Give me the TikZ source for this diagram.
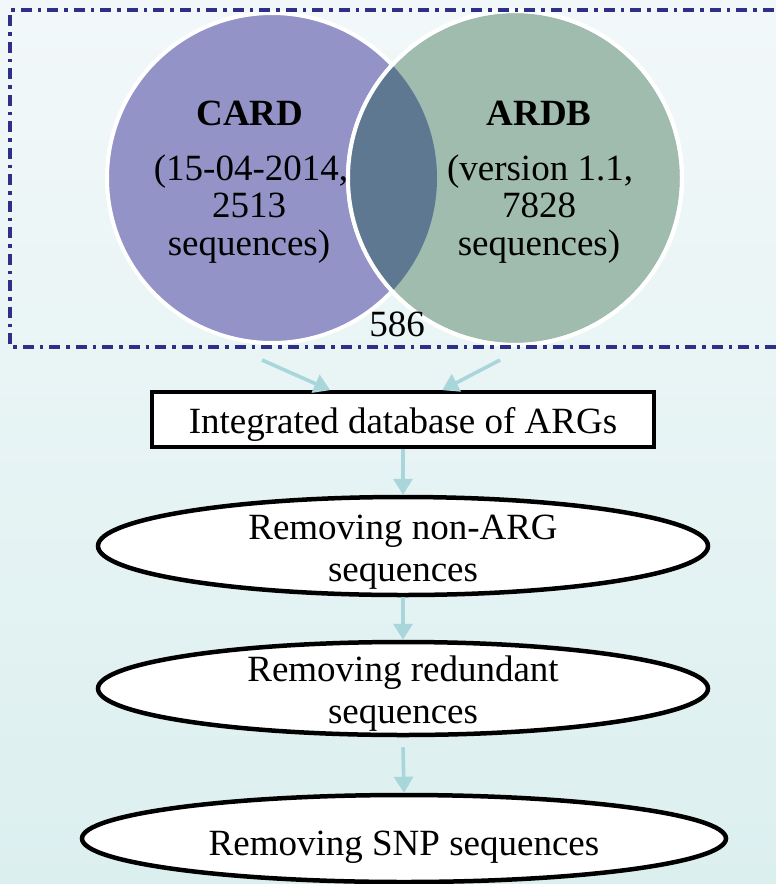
\documentclass[tikz,border=0pt]{standalone}
\usepackage{fontspec}
\setmainfont{Liberation Serif}
\usetikzlibrary{arrows.meta,shapes.geometric}
\definecolor{bgtop}{HTML}{F2F8F9}
\definecolor{bgbot}{HTML}{DCEFEF}
\definecolor{cardc}{HTML}{9393C8}
\definecolor{ardbc}{HTML}{9FBCAF}
\definecolor{lensc}{HTML}{5E7892}
\definecolor{navy}{HTML}{2E3088}
\definecolor{arrc}{HTML}{A8D6DA}
\tikzset{
  txt/.style={anchor=base, inner sep=0pt, outer sep=0pt},
  ell/.style={ellipse, draw=black, fill=white, line width=4.5pt, inner sep=0pt},
  dbbox/.style={rectangle, draw=black, fill=white, line width=3.6pt, inner sep=0pt, minimum width=502pt, minimum height=55pt},
  venn/.style={circle, draw=white, line width=4pt, inner sep=0pt},
  arr/.style={draw=arrc, line width=3.6pt, -{Triangle[width=19pt,length=16pt]}},
  frame/.style={draw=navy, line width=3.4pt, dash pattern=on 11pt off 6pt on 3.5pt off 6pt}
}
\begin{document}
\begin{tikzpicture}[x=1pt, y=-1pt, font=\fontsize{37}{37}\selectfont]
\useasboundingbox (0,0) rectangle (776,884);
\shade[top color=bgtop, bottom color=bgbot] (0,0) rectangle (776,884);

% Venn diagram
\node[venn, fill=cardc, minimum size=330pt] (card) at (272,178) {};
\node[venn, fill=ardbc, minimum size=334pt] (ardb) at (515,178) {};
\begin{scope}
  \clip (card.center) circle[radius=165pt];
  \fill[lensc] (ardb.center) circle[radius=167pt];
\end{scope}
\draw[white, line width=4pt] (ardb.center) circle[radius=167pt];

\node[txt] (c1) at (250,125) {\textbf{CARD}};
\node[txt] (c2) at (251,180) {(15-04-2014,};
\node[txt] (c3) at (249,217) {2513};
\node[txt] (c4) at (249,255) {sequences)};
\node[txt] (r1) at (539,125) {\textbf{ARDB}};
\node[txt] (r2) at (540,180) {(version 1.1,};
\node[txt] (r3) at (539,217) {7828};
\node[txt] (r4) at (539,255) {sequences)};
\node[txt] (n586) at (397,336) {586};

% dash-dot frame
\draw[frame] (800,10) -- (10,10) -- (10,347) -- (800,347);

% flow
\node[dbbox] (db) at (403,419.5) {};
\node[txt] (dbt) at (403,433) {Integrated database of ARGs};

\node[ell, minimum width=610pt, minimum height=98pt] (e1) at (403,546) {};
\node[txt] (e1a) at (403,539) {Removing non-ARG};
\node[txt] (e1b) at (403,581) {sequences};

\node[ell, minimum width=610pt, minimum height=93pt] (e2) at (403,688.5) {};
\node[txt] (e2a) at (403,681) {Removing redundant};
\node[txt] (e2b) at (403,723) {sequences};

\node[ell, minimum width=644pt, minimum height=87pt] (e3) at (404,838.5) {};
\node[txt] (e3a) at (404,855) {Removing SNP sequences};

\coordinate (s1) at (262,360);
\coordinate (s2) at (500,360);
\draw[arr] (s1) -- ([xshift=180pt]db.north west);
\draw[arr] (s2) -- ([xshift=292pt]db.north west);
\draw[arr] (db.south) -- (e1.north);
\draw[arr] (e1.south) -- (e2.north);
\draw[arr] ([yshift=-10pt]e2.south) -- (e3.north);
\end{tikzpicture}
\end{document}
